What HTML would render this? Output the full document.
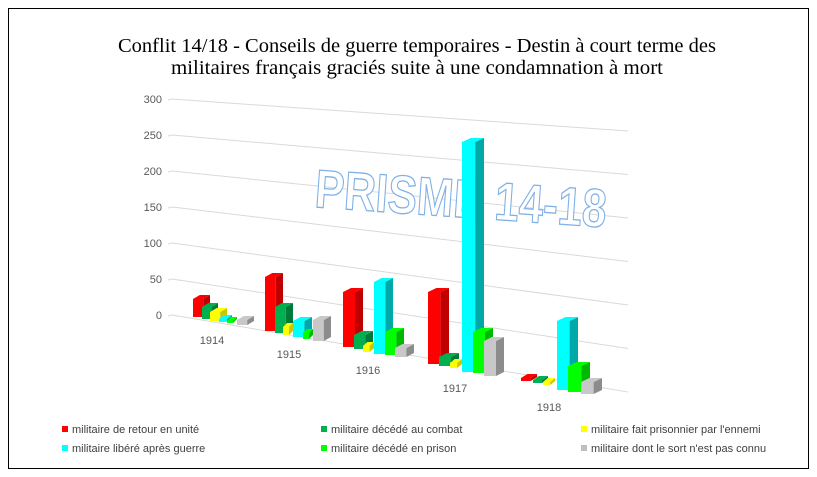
<!DOCTYPE html>
<html><head><meta charset="utf-8"><style>
body{margin:0;background:#fff;}
svg{display:block;}
</style></head><body>
<svg id="s" width="817" height="477" viewBox="0 0 817 477" xmlns="http://www.w3.org/2000/svg">
<rect x="0" y="0" width="817" height="477" fill="#fff"/>
<rect x="8.5" y="8.5" width="800" height="460" fill="#fff" stroke="#000" stroke-width="1"/>
<text x="417" y="52" text-anchor="middle" font-family="Liberation Serif, serif" font-size="20.5" fill="#000" textLength="598" lengthAdjust="spacingAndGlyphs">Conflit 14/18 - Conseils de guerre temporaires - Destin à court terme des</text>
<text x="417" y="74" text-anchor="middle" font-family="Liberation Serif, serif" font-size="20.5" fill="#000" textLength="492" lengthAdjust="spacingAndGlyphs">militaires français graciés suite à une condamnation à mort</text>
<g id="grid" stroke="#d9d9d9" stroke-width="1"></g>
<g font-family="Liberation Sans, sans-serif" font-size="11" fill="#595959" text-anchor="end">
<text x="162" y="103">300</text><text x="162" y="139">250</text><text x="162" y="175">200</text>
<text x="162" y="211">150</text><text x="162" y="247">100</text><text x="162" y="283">50</text><text x="162" y="319">0</text>
</g>
<g font-family="Liberation Sans, sans-serif" font-size="11" fill="#595959" text-anchor="middle">
<text x="212" y="344">1914</text><text x="289" y="358">1915</text><text x="368" y="374">1916</text>
<text x="455" y="392">1917</text><text x="549" y="411">1918</text>
</g>
<text x="314" y="207" transform="rotate(4 314 207)" font-family="Liberation Sans, sans-serif" font-weight="bold" font-size="54" fill="#fff" stroke="#7fb0e6" stroke-width="1.3" textLength="292" lengthAdjust="spacingAndGlyphs">PRISME 14-18</text>
<g id="bars"></g>
<g font-family="Liberation Sans, sans-serif" font-size="11" fill="#404040">
<rect x="62" y="426" width="6" height="6" fill="#ff0000"/><text x="72" y="433">militaire de retour en unité</text>
<rect x="321" y="426" width="6" height="6" fill="#00b050"/><text x="331" y="433">militaire décédé au combat</text>
<rect x="581" y="426" width="6" height="6" fill="#ffff00"/><text x="591" y="433">militaire fait prisonnier par l'ennemi</text>
<rect x="62" y="445" width="6" height="6" fill="#00ffff"/><text x="72" y="452">militaire libéré après guerre</text>
<rect x="321" y="445" width="6" height="6" fill="#00ff00"/><text x="331" y="452">militaire décédé en prison</text>
<rect x="581" y="445" width="6" height="6" fill="#bfbfbf"/><text x="591" y="452">militaire dont le sort n'est pas connu</text>
</g>
</svg>
<script>
var NS="http://www.w3.org/2000/svg";
function el(p,t,a){var e=document.createElementNS(NS,t);for(var k in a)e.setAttribute(k,a[k]);p.appendChild(e);return e;}
var g=document.getElementById('grid');
for(var v=0;v<=300;v+=50){el(g,'line',{x1:168,y1:315-v*0.72+1,x2:172,y2:315-v*0.72,stroke:'#d9d9d9'});el(g,'line',{x1:172,y1:315-v*0.72,x2:628,y2:392-v*0.87});}
var C=[["#ff0000","#c00000"],["#00b050","#007a38"],["#ffff00","#c8c800"],["#00ffff","#00a8a8"],["#00ff00","#00b800"],["#c8c8c8","#8c8c8c"]];
var B=[
[0,193,210,299,317],[1,202,218,307,319],[2,210,227,312,321],[3,219,232,319,322],[4,227,237,321,323],[5,237,254,320,325],
[0,265,283,277,331],[1,275,293,307,333],[2,283,293,327,335],[3,293,312,321,337],[4,303,313,333,339],[5,313,331,320,341],
[0,343,363,292,347],[1,354,373,335,349],[2,363,374,346,352],[3,374,393,282,354],[4,385,404,332,355],[5,395,414,348,357],
[0,428,449,292,364],[1,439,459,357,366],[2,450,462,363,368],[3,462,484,142,372],[4,473,493,332,373],[5,484,504,341,376],
[0,521,537,378,381],[1,533,548,380,383],[2,543,555,382,385],[3,557,578,321,390],[4,568,590,366,392],[5,581,602,382,394]];
var bg=document.getElementById('bars');
B.forEach(function(b){var c=C[b[0]],x0=b[1],x1=b[2],t=b[3],bt=b[4];var xf=x0+(x1-x0)*0.6,d=4;
el(bg,'rect',{x:x0,y:t,width:xf-x0,height:bt-t,fill:c[0]});
el(bg,'polygon',{points:xf+','+t+' '+x1+','+(t-d)+' '+x1+','+(bt-d)+' '+xf+','+bt,fill:c[1]});
el(bg,'polygon',{points:x0+','+t+' '+xf+','+t+' '+x1+','+(t-d)+' '+(x0+x1-xf)+','+(t-d),fill:c[0]});});
</script>
</body></html>
